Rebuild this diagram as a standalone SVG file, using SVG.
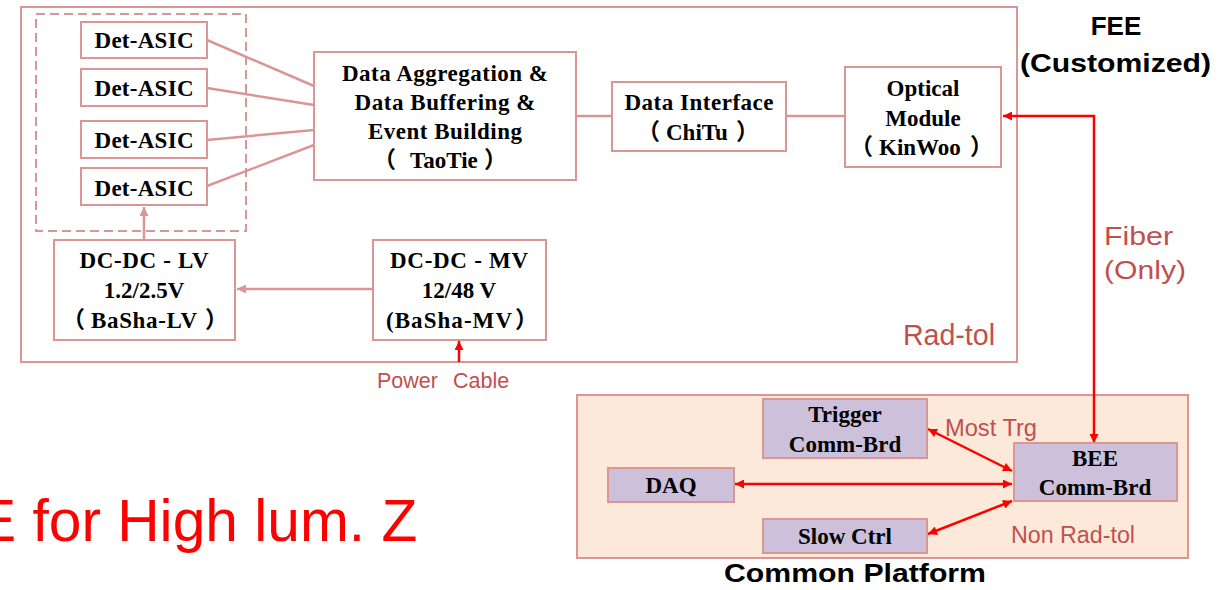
<svg xmlns="http://www.w3.org/2000/svg" width="1226" height="590" viewBox="0 0 1226 590">
  <style>
    .frame { fill: none; stroke: #d99694; stroke-width: 2; }
    .dash { fill: none; stroke: #d99694; stroke-width: 2; stroke-dasharray: 9 5; }
    .box { fill: #ffffff; stroke: #d99694; stroke-width: 2; }
    .pbox { fill: #ccc0da; stroke: #d99694; stroke-width: 2; }
    .platform { fill: #fde9d9; stroke: #d99694; stroke-width: 2; }
    .lbl { font-family: "Liberation Serif", "Noto Sans CJK SC", serif; font-weight: bold; font-size: 23px; fill: #000000; text-anchor: middle; }
    .st { text-anchor: start; }
    .note { font-family: "Liberation Sans", Arial, sans-serif; fill: #c0504d; }
    .head { font-family: "Liberation Sans", Arial, sans-serif; font-weight: bold; fill: #000000; }
    .link { stroke: #d99694; stroke-width: 2.5; fill: none; }
    .red { stroke: #ff0000; stroke-width: 2.5; fill: none; }
  </style>
  <defs>
    <marker id="arRose" viewBox="0 0 10 10" refX="10" refY="5" markerWidth="10" markerHeight="9" markerUnits="userSpaceOnUse" orient="auto-start-reverse">
      <path d="M0,0 L10,5 L0,10 z" fill="#d99694"/>
    </marker>
    <marker id="arRed" viewBox="0 0 10 10" refX="10" refY="5" markerWidth="11" markerHeight="9" markerUnits="userSpaceOnUse" orient="auto-start-reverse">
      <path d="M0,0 L10,5 L0,10 z" fill="#ff0000"/>
    </marker>
  </defs>

  <rect width="1226" height="590" fill="#ffffff"/>

  <!-- rad-tol front-end board -->
  <g id="fee-frame">
    <rect class="frame" x="21" y="7" width="996" height="355"/>
    <rect class="dash" x="36" y="14" width="210" height="217"/>
    <text class="note" x="903" y="345" font-size="29" textLength="92" lengthAdjust="spacingAndGlyphs">Rad-tol</text>
  </g>

  <!-- back-end common platform -->
  <g id="common-frame">
    <rect class="platform" x="577" y="395" width="611" height="163"/>
    <text class="note" x="1011" y="543" font-size="23" textLength="124" lengthAdjust="spacingAndGlyphs">Non Rad-tol</text>
    <text class="head" x="724" y="582" font-size="26" textLength="262" lengthAdjust="spacingAndGlyphs">Common Platform</text>
  </g>

  <g id="fee-title">
    <text class="head" x="1116" y="35" font-size="26" text-anchor="middle">FEE</text>
    <text class="head" x="1020" y="72" font-size="26" textLength="191" lengthAdjust="spacingAndGlyphs">(Customized)</text>
  </g>

  <g id="page-title">
    <text x="-23" y="541" font-family="Liberation Sans, Arial, sans-serif" font-size="58.7" fill="#ff0000">E for High lum. Z</text>
  </g>

  <!-- connectors -->
  <g id="connectors">
    <line class="link" x1="207" y1="40" x2="314" y2="86"/>
    <line class="link" x1="207" y1="88" x2="314" y2="105"/>
    <line class="link" x1="207" y1="140" x2="314" y2="130"/>
    <line class="link" x1="207" y1="186" x2="314" y2="145"/>
    <line class="link" x1="576" y1="116" x2="612" y2="116"/>
    <line class="link" x1="786" y1="116" x2="845" y2="116"/>
    <line class="link" x1="373" y1="289" x2="237" y2="289" marker-end="url(#arRose)"/>
    <line class="link" x1="144" y1="240" x2="144" y2="207" marker-end="url(#arRose)"/>
    <line class="red" x1="459" y1="362" x2="459" y2="341" marker-end="url(#arRed)"/>
    <polyline class="red" points="1003,116 1094,116 1094,443" marker-start="url(#arRed)" marker-end="url(#arRed)"/>
    <line class="red" x1="928" y1="429" x2="1012" y2="471" marker-start="url(#arRed)" marker-end="url(#arRed)"/>
    <line class="red" x1="735" y1="484" x2="1012" y2="484" marker-start="url(#arRed)" marker-end="url(#arRed)"/>
    <line class="red" x1="928" y1="534" x2="1012" y2="501" marker-start="url(#arRed)" marker-end="url(#arRed)"/>
    <text class="note" y="388" font-size="21.5"><tspan x="377">Power</tspan><tspan x="453">Cable</tspan></text>
    <text class="note" x="1104" y="245" font-size="26" textLength="69" lengthAdjust="spacingAndGlyphs">Fiber</text>
    <text class="note" x="1104" y="279" font-size="26" textLength="82" lengthAdjust="spacingAndGlyphs">(Only)</text>
    <text class="note" x="945" y="436" font-size="23" textLength="92" lengthAdjust="spacingAndGlyphs">Most Trg</text>
  </g>

  <!-- front-end nodes -->
  <g id="det-asic-1">
    <rect class="box" x="81" y="22" width="126" height="36"/>
    <text class="lbl" x="144" y="48" textLength="99" lengthAdjust="spacing">Det-ASIC</text>
  </g>
  <g id="det-asic-2">
    <rect class="box" x="81" y="69" width="126" height="37"/>
    <text class="lbl" x="144" y="96" textLength="99" lengthAdjust="spacing">Det-ASIC</text>
  </g>
  <g id="det-asic-3">
    <rect class="box" x="81" y="121" width="126" height="37"/>
    <text class="lbl" x="144" y="148" textLength="99" lengthAdjust="spacing">Det-ASIC</text>
  </g>
  <g id="det-asic-4">
    <rect class="box" x="81" y="168" width="126" height="37"/>
    <text class="lbl" x="144" y="196" textLength="99" lengthAdjust="spacing">Det-ASIC</text>
  </g>

  <g id="taotie">
    <rect class="box" x="314" y="52" width="262" height="128"/>
    <text class="lbl" x="445" y="81" textLength="206" lengthAdjust="spacing">Data Aggregation &amp;</text>
    <text class="lbl" x="445" y="110" textLength="181" lengthAdjust="spacing">Data Buffering &amp;</text>
    <text class="lbl" x="445" y="139" textLength="154" lengthAdjust="spacing">Event Building</text>
    <text class="lbl st" y="168"><tspan x="373">（</tspan><tspan x="410">TaoTie</tspan><tspan x="484">）</tspan></text>
  </g>

  <g id="chitu">
    <rect class="box" x="612" y="82" width="174" height="69"/>
    <text class="lbl" x="699" y="110" textLength="149" lengthAdjust="spacing">Data Interface</text>
    <text class="lbl st" y="140"><tspan x="637">（</tspan><tspan x="666">ChiTu</tspan><tspan x="736">）</tspan></text>
  </g>

  <g id="kinwoo">
    <rect class="box" x="845" y="67" width="156" height="100"/>
    <text class="lbl" x="923" y="96">Optical</text>
    <text class="lbl" x="923" y="126">Module</text>
    <text class="lbl st" y="155"><tspan x="850">（</tspan><tspan x="879">KinWoo</tspan><tspan x="970">）</tspan></text>
  </g>

  <g id="basha-lv">
    <rect class="box" x="54" y="240" width="181" height="100"/>
    <text class="lbl" x="144" y="268" textLength="129" lengthAdjust="spacing">DC-DC - LV</text>
    <text class="lbl" x="144" y="298">1.2/2.5V</text>
    <text class="lbl st" y="328"><tspan x="62">（</tspan><tspan x="91" textLength="106" lengthAdjust="spacing">BaSha-LV</tspan><tspan x="205">）</tspan></text>
  </g>

  <g id="basha-mv">
    <rect class="box" x="373" y="240" width="173" height="100"/>
    <text class="lbl" x="459" y="268" textLength="138" lengthAdjust="spacing">DC-DC - MV</text>
    <text class="lbl" x="459" y="298">12/48 V</text>
    <text class="lbl st" y="328"><tspan x="386" textLength="126" lengthAdjust="spacing">(BaSha-MV</tspan><tspan x="515">）</tspan></text>
  </g>

  <!-- back-end nodes -->
  <g id="trigger">
    <rect class="pbox" x="763" y="399" width="164" height="59"/>
    <text class="lbl" x="845" y="422">Trigger</text>
    <text class="lbl" x="845" y="452">Comm-Brd</text>
  </g>
  <g id="daq">
    <rect class="pbox" x="608" y="468" width="126" height="34"/>
    <text class="lbl" x="671" y="493">DAQ</text>
  </g>
  <g id="slow-ctrl">
    <rect class="pbox" x="763" y="519" width="164" height="34"/>
    <text class="lbl" x="845" y="544">Slow Ctrl</text>
  </g>
  <g id="bee">
    <rect class="pbox" x="1014" y="443" width="163" height="58"/>
    <text class="lbl" x="1095" y="466">BEE</text>
    <text class="lbl" x="1095" y="495">Comm-Brd</text>
  </g>
</svg>
